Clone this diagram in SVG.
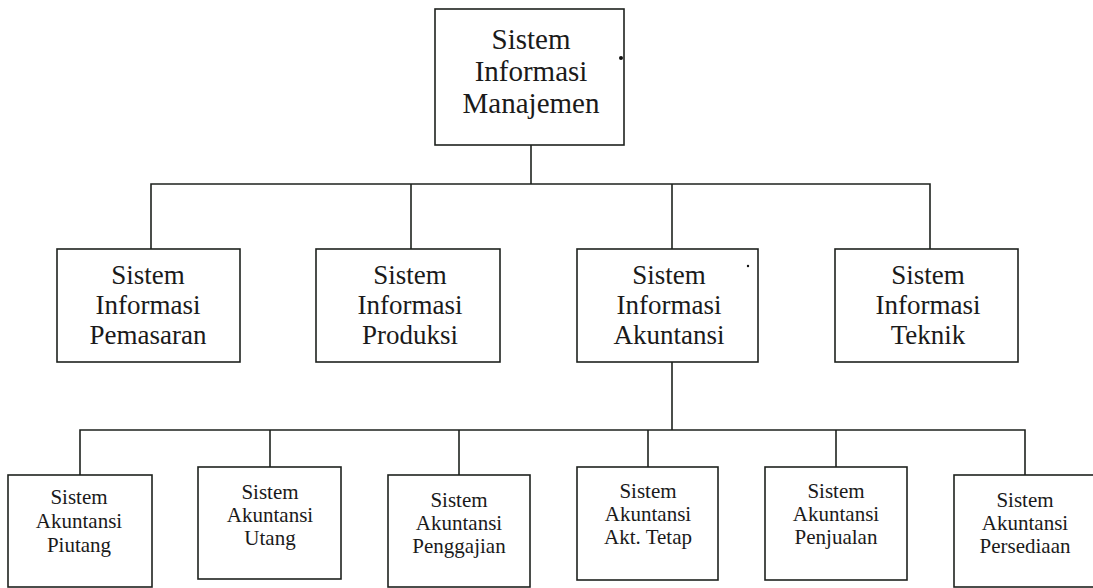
<svg xmlns="http://www.w3.org/2000/svg" width="1093" height="588" viewBox="0 0 1093 588">
<style>
.box{fill:#fff;stroke:#1e221e;stroke-width:1.6}
.ln{fill:none;stroke:#1e221e;stroke-width:1.6}
text{font-family:'Liberation Serif','Times New Roman',serif;fill:#1a1a1a;text-anchor:middle}
.t1{font-size:29px}
.t2{font-size:27px}
.t3{font-size:21px}
</style>
<rect width="1093" height="588" fill="#fff"/>
<g id="connectors">
<path class="ln" d="M531 145V184"/>
<path class="ln" d="M151 249V184H930V249"/>
<path class="ln" d="M411 184V249"/>
<path class="ln" d="M672 184V249"/>
<path class="ln" d="M672 362V430"/>
<path class="ln" d="M80 475V430H1025V475"/>
<path class="ln" d="M270 430V467"/>
<path class="ln" d="M459 430V475"/>
<path class="ln" d="M648 430V467"/>
<path class="ln" d="M836 430V467"/>
</g>
<g id="sim">
<rect class="box" x="435" y="9" width="189" height="136"/>
<text class="t1" x="531" y="49">Sistem</text>
<text class="t1" x="531" y="81">Informasi</text>
<text class="t1" x="531" y="113">Manajemen</text>
<circle cx="621" cy="58" r="2" fill="#111"/>
</g>
<g id="si-pemasaran">
<rect class="box" x="57" y="249" width="183" height="113"/>
<text class="t2" x="148" y="284">Sistem</text>
<text class="t2" x="148" y="314">Informasi</text>
<text class="t2" x="148" y="344">Pemasaran</text>
</g>
<g id="si-produksi">
<rect class="box" x="316" y="249" width="184" height="113"/>
<text class="t2" x="410" y="284">Sistem</text>
<text class="t2" x="410" y="314">Informasi</text>
<text class="t2" x="410" y="344">Produksi</text>
</g>
<g id="si-akuntansi">
<rect class="box" x="577" y="249" width="181" height="113"/>
<text class="t2" x="669" y="284">Sistem</text>
<text class="t2" x="669" y="314">Informasi</text>
<text class="t2" x="669" y="344">Akuntansi</text>
<circle cx="748" cy="266" r="1.2" fill="#111"/>
</g>
<g id="si-teknik">
<rect class="box" x="835" y="249" width="183" height="113"/>
<text class="t2" x="928" y="284">Sistem</text>
<text class="t2" x="928" y="314">Informasi</text>
<text class="t2" x="928" y="344">Teknik</text>
</g>
<g id="sa-piutang">
<rect class="box" x="8" y="475" width="144" height="112"/>
<text class="t3" x="79" y="504">Sistem</text>
<text class="t3" x="79" y="528">Akuntansi</text>
<text class="t3" x="79" y="552">Piutang</text>
</g>
<g id="sa-utang">
<rect class="box" x="198" y="467" width="143" height="112"/>
<text class="t3" x="270" y="499">Sistem</text>
<text class="t3" x="270" y="522">Akuntansi</text>
<text class="t3" x="270" y="545">Utang</text>
</g>
<g id="sa-penggajian">
<rect class="box" x="388" y="475" width="142" height="112"/>
<text class="t3" x="459" y="507">Sistem</text>
<text class="t3" x="459" y="530">Akuntansi</text>
<text class="t3" x="459" y="553">Penggajian</text>
</g>
<g id="sa-akt-tetap">
<rect class="box" x="577" y="467" width="141" height="113"/>
<text class="t3" x="648" y="498">Sistem</text>
<text class="t3" x="648" y="521">Akuntansi</text>
<text class="t3" x="648" y="544">Akt. Tetap</text>
</g>
<g id="sa-penjualan">
<rect class="box" x="765" y="467" width="142" height="113"/>
<text class="t3" x="836" y="498">Sistem</text>
<text class="t3" x="836" y="521">Akuntansi</text>
<text class="t3" x="836" y="544">Penjualan</text>
</g>
<g id="sa-persediaan">
<rect class="box" x="954" y="475" width="145" height="112"/>
<text class="t3" x="1025" y="507">Sistem</text>
<text class="t3" x="1025" y="530">Akuntansi</text>
<text class="t3" x="1025" y="553">Persediaan</text>
</g>
</svg>
